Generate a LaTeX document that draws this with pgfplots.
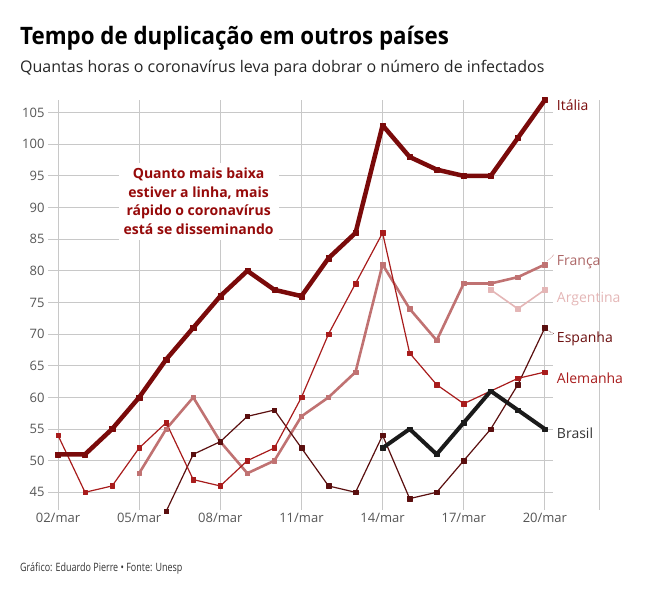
\documentclass[border=0pt]{standalone}
\usepackage{fontspec}
\setmainfont{Open Sans}
\newfontfamily\condfont[FakeStretch=0.93]{Open Sans}
\newfontfamily\footfont[FakeStretch=0.78]{Open Sans}
\usepackage{pgfplots}
\pgfplotsset{compat=1.18}
\definecolor{italia}{RGB}{122,10,10}
\definecolor{alemanha}{RGB}{168,28,28}
\definecolor{espanha}{RGB}{90,15,15}
\definecolor{franca}{RGB}{192,114,114}
\definecolor{argentina}{RGB}{228,182,182}
\definecolor{brasil}{RGB}{26,26,26}
\definecolor{gridc}{RGB}{200,200,200}
\definecolor{tickgray}{RGB}{85,85,85}
\definecolor{annot}{RGB}{150,10,10}

\pgfplotstableread{
x y
0 51
1 51
2 55
3 60
4 66
5 71
6 76
7 80
8 77
9 76
10 82
11 86
12 103
13 98
14 96
15 95
16 95
17 101
18 107
}\italia
\pgfplotstableread{
x y
0 54
1 45
2 46
3 52
4 56
5 47
6 46
7 50
8 52
9 60
10 70
11 78
12 86
13 67
14 62
15 59
16 61
17 63
18 64
}\alemanha
\pgfplotstableread{
x y
4 42
5 51
6 53
7 57
8 58
9 52
10 46
11 45
12 54
13 44
14 45
15 50
16 55
17 62
18 71
}\espanha
\pgfplotstableread{
x y
3 48
4 55
5 60
6 53
7 48
8 50
9 57
10 60
11 64
12 81
13 74
14 69
15 78
16 78
17 79
18 81
}\franca
\pgfplotstableread{
x y
16 77
17 74
18 77
}\argentina
\pgfplotstableread{
x y
12 52
13 55
14 51
15 56
16 61
17 58
18 55
}\brasil

\begin{document}
\begin{tikzpicture}
\path (0pt,0pt) rectangle (651pt,600pt);
\node[anchor=base west, inner sep=0, font=\condfont\bfseries\fontsize{24}{28}\selectfont] at (20pt,555pt) {Tempo de duplicação em outros países};
\node[anchor=base west, inner sep=0, font=\fontsize{16}{19}\selectfont, text=black!85] at (20pt,527pt) {Quantas horas o coronavírus leva para dobrar o número de infectados};
\node[anchor=base west, inner sep=0, font=\footfont\fontsize{11.5}{14}\selectfont, text=black!80] at (20pt,28pt) {Gráfico: Eduardo Pierre • Fonte: Unesp};
\begin{axis}[
  at={(48pt,90pt)}, anchor=south west, scale only axis,
  width=505pt, height=410pt,
  xmin=-0.37, xmax=18.3, ymin=42.2, ymax=107,
  axis line style={draw=none},
  major tick length=0pt,
  xtick={0,3,...,18},
  xticklabels={02/mar,05/mar,08/mar,11/mar,14/mar,17/mar,20/mar},
  ytick={45,50,...,105},
  grid=major,
  major grid style={gridc, line width=0.9pt},
  ticklabel style={font=\fontsize{13}{15}\selectfont, text=tickgray},
  /pgf/number format/assume math mode=true,
  clip=false,
]
\draw[gridc, line width=0.9pt] (axis cs:20,42.2) -- (axis cs:20,107);
\node[fill=white, align=center, inner xsep=5pt, inner ysep=5pt, font=\bfseries\fontsize{14}{18.7}\selectfont, text=annot] at (axis cs:5.2,91) {Quanto mais baixa\\estiver a linha, mais\\rápido o coronavírus\\está se disseminando};
\addplot[argentina, line width=1.6pt, line join=round, mark=square*, mark size=2.2pt, mark options={solid, line width=0.4pt}] table {\argentina};
\addplot[franca, line width=2.6pt, line join=round, mark=square*, mark size=2.2pt, mark options={solid, line width=0.4pt}] table {\franca};
\addplot[espanha, line width=1.2pt, line join=round, mark=square*, mark size=2.3pt, mark options={solid, line width=0.4pt}] table {\espanha};
\addplot[alemanha, line width=1.2pt, line join=round, mark=square*, mark size=2.3pt, mark options={solid, line width=0.4pt}] table {\alemanha};
\addplot[brasil, line width=4pt, line join=round, mark=square*, mark size=2.3pt, mark options={solid, line width=0.4pt}] table {\brasil};
\addplot[italia, line width=4.5pt, line join=round, mark=square*, mark size=2.6pt, mark options={solid, line width=0.4pt}] table {\italia};
\begin{scope}[every node/.style={anchor=west, inner sep=0, font=\fontsize{14}{16}\selectfont}]
\node[text=italia] at (axis cs:18.44,106.1) {Itália};
\node[text=franca!90!black] at (axis cs:18.44,81.4) {França};
\node[text=argentina] at (axis cs:18.44,75.6) {Argentina};
\node[text=espanha!90!red] at (axis cs:18.44,69.3) {Espanha};
\node[text=alemanha] at (axis cs:18.44,63.0) {Alemanha};
\node[text=black!80] at (axis cs:18.44,54.3) {Brasil};
\end{scope}
\draw[franca, densely dotted, line width=0.6pt] (axis cs:18.1,81.6) -- (axis cs:18.35,82.6);
\draw[espanha, densely dotted, line width=0.6pt] (axis cs:18.1,70.6) -- (axis cs:18.35,70.0);
\end{axis}
\end{tikzpicture}
\end{document}
